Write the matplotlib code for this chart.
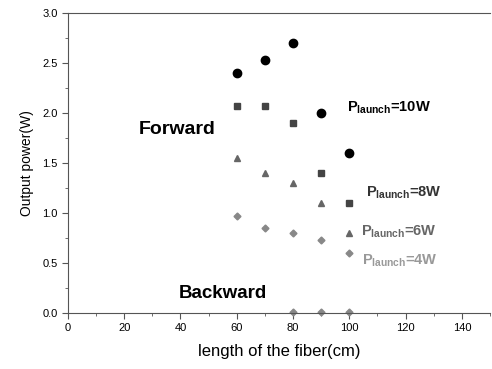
import matplotlib.pyplot as plt
from matplotlib.ticker import MultipleLocator

plt.rcParams['font.family'] = ['Liberation Sans', 'DejaVu Sans']
plt.rcParams['mathtext.fontset'] = 'custom'
plt.rcParams['mathtext.bf'] = 'Liberation Sans:bold'
plt.rcParams['mathtext.rm'] = 'Liberation Sans'

# fiber lengths (cm)
length = [60, 70, 80, 90, 100]
p10 = [2.40, 2.53, 2.70, 2.00, 1.60]
p8 = [2.07, 2.07, 1.90, 1.40, 1.10]
p6 = [1.55, 1.40, 1.30, 1.10, 0.80]
p4 = [0.97, 0.85, 0.80, 0.73, 0.60]

back_length = [80, 90, 100]
back_power = [0.01, 0.01, 0.01]

labels = ['10W', '8W', '6W', '4W']

fig = plt.figure(figsize=(4.92, 3.69), dpi=100)
ax = fig.add_axes([0.138, 0.152, 0.858, 0.813])

ax.plot(length, p10, 'o', color='black', markersize=6)
ax.plot(length, p8, 's', color='#444444', markersize=4)
ax.plot(length, p6, '^', color='#666666', markersize=4)
ax.plot(length, p4, 'D', color='#888888', markersize=3.5)
ax.plot(back_length, back_power, 'D', color='#888888', markersize=3.5, clip_on=False)

ax.set_xlim(0, 150)
ax.set_ylim(0, 3.0)
ax.xaxis.set_major_locator(MultipleLocator(20))
ax.xaxis.set_minor_locator(MultipleLocator(10))
ax.yaxis.set_major_locator(MultipleLocator(0.5))
ax.yaxis.set_minor_locator(MultipleLocator(0.25))
ax.yaxis.set_major_formatter(plt.FormatStrFormatter('%.1f'))

for s in ['left', 'bottom', 'top']:
    ax.spines[s].set_color('#555555')
ax.spines['right'].set_visible(False)
ax.tick_params(which='both', direction='out', colors='#555555', labelcolor='black', labelsize=8)
ax.tick_params(which='major', length=4)
ax.tick_params(which='minor', length=2)
ax.tick_params(top=False)

ax.set_xlabel('length of the fiber(cm)', fontsize=12, labelpad=8)
ax.set_ylabel('Output power(W)', fontsize=10, labelpad=6)

ax.text(39, 1.83, 'Forward', fontsize=14, fontweight='bold', ha='center', va='center')
ax.text(55, 0.19, 'Backward', fontsize=13.5, fontweight='bold', ha='center', va='center')

label_x = [99, 106, 104, 104.5]
label_y = [2.05, 1.20, 0.81, 0.52]
label_colors = ['black', '#333333', '#666666', '#999999']
for lab, lx, ly, lc in zip(labels, label_x, label_y, label_colors):
    ax.text(lx, ly, r'$\mathbf{P_{launch}}$=' + lab, fontsize=10.5, fontweight='bold',
            color=lc, va='center')

fig.savefig('out.png', dpi=100)
